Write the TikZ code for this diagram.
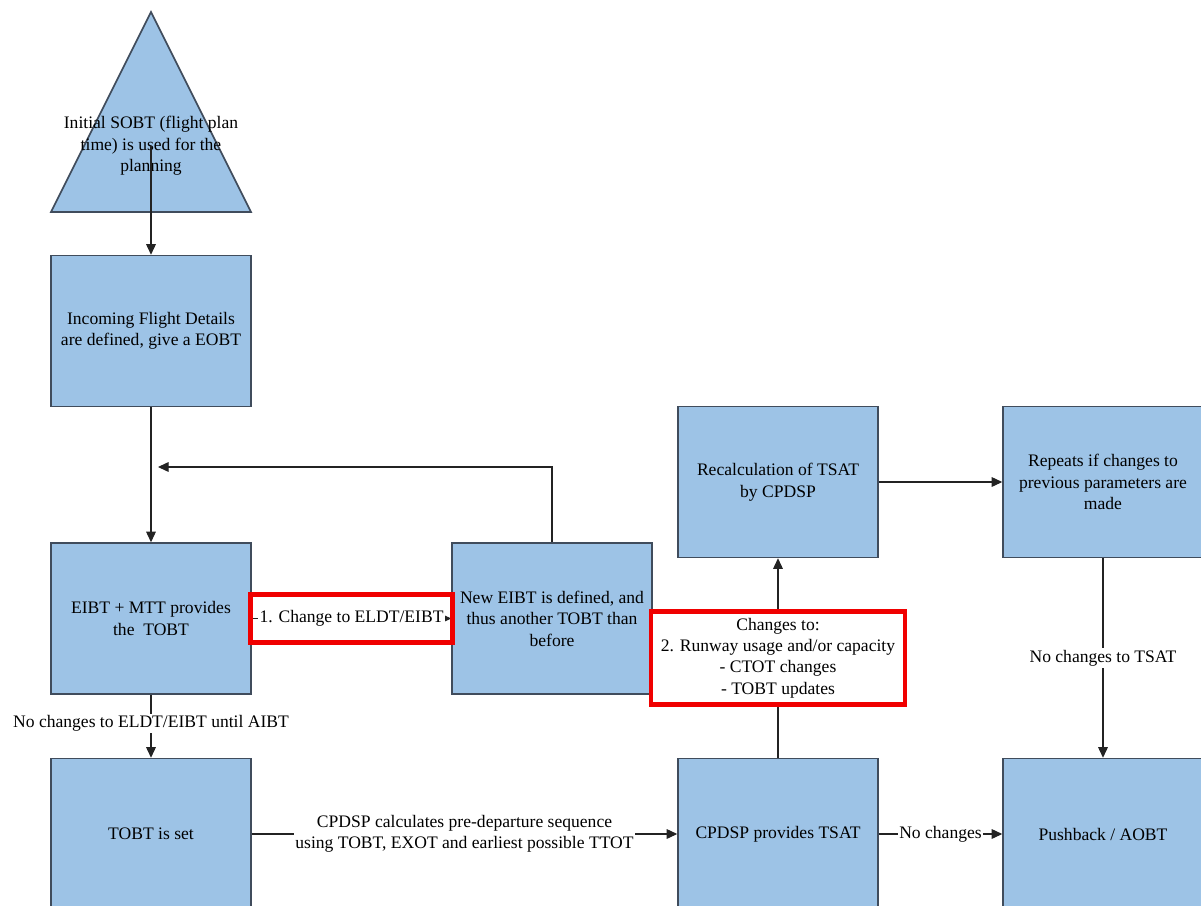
\documentclass[tikz,border=0pt]{standalone}
\usepackage{fontspec}
\setmainfont{Liberation Serif}
\usetikzlibrary{arrows.meta}
\definecolor{boxfill}{RGB}{157,195,230}
\definecolor{boxline}{RGB}{64,76,92}
\definecolor{wire}{RGB}{35,35,35}
\definecolor{flag}{RGB}{240,0,0}
\begin{document}
\begin{tikzpicture}[x=0.02cm,y=-0.02cm,
  txt/.style={font=\fontsize{10}{12.2}\selectfont, align=center},
  stagebox/.style={txt, draw=boxline, fill=boxfill, line width=0.9pt,
    minimum width=4cm, minimum height=3.02cm, inner sep=2pt},
  plain/.style={draw=wire, line width=0.6pt},
  arr/.style={plain, -{Triangle[length=6pt,width=5.5pt]}},
  tag/.style={txt, fill=white, inner sep=1pt},
  flagbox/.style={draw=flag, line width=2.8pt, inner sep=0pt}
]
\clip (0,0) rectangle (1201,906);
\fill[white] (0,0) rectangle (1201,906);

% starting point: the flight plan time
\fill[boxfill, draw=boxline, line width=0.9pt] (51,212) -- (151,12) -- (251,212) -- cycle;
\node[txt] (sobt) at (151,146) {Initial SOBT (flight plan\\time) is used for the\\planning};

% process stages
\node[stagebox] (incoming) at (151,331) {Incoming Flight Details\\are defined, give a EOBT};
\node[stagebox] (eibt)     at (151,618.5) {EIBT + MTT provides\\the\ \ TOBT};
\node[stagebox] (neweibt)  at (552,618.5) {New EIBT is defined, and\\thus another TOBT than\\before};
\node[stagebox] (recalc)   at (778,482) {Recalculation of TSAT\\by CPDSP};
\node[stagebox] (repeats)  at (1103,482) {Repeats if changes to\\previous parameters are\\made};
\node[stagebox] (tobtset)  at (151,834) {TOBT is set};
\node[stagebox] (tsat)     at (778,834) {CPDSP provides TSAT};
\node[stagebox] (aobt)     at (1103,834) {Pushback / AOBT};

% connectors
\draw[arr] (sobt.center) -- (incoming.north);
\draw[arr] (incoming.south) -- (eibt.north);

\coordinate (loopend) at (158,467);
\draw[arr] (neweibt.north) |- (loopend);

\draw[arr] (eibt.east) -- (neweibt.west)
  node[midway, flagbox, minimum width=4.04cm, minimum height=0.96cm] (flag1) {}
  node[midway, tag] (lbl1) {1. Change to ELDT/EIBT};

\draw[arr] (eibt.south) -- (tobtset.north)
  node[midway, tag, yshift=0.06cm] (lbl2) {No changes to ELDT/EIBT until AIBT};

\draw[arr] (tobtset.east) -- (tsat.west)
  node[midway, tag] (lbl3) {CPDSP calculates pre-departure sequence\\using TOBT, EXOT and earliest possible TTOT};

\draw[arr] (tsat.north) -- (recalc.south)
  node[midway, flagbox, fill=white, minimum width=5.08cm, minimum height=1.86cm, txt] (flag2)
  {Changes to:\\2. Runway usage and/or capacity\\- CTOT changes\\- TOBT updates};

\draw[arr] (recalc.east) -- (repeats.west);

\draw[arr] (repeats.south) -- (aobt.north)
  node[midway, tag] (lbl4) {No changes to TSAT};

\draw[arr] (tsat.east) -- (aobt.west)
  node[midway, tag] (lbl5) {No changes};
\end{tikzpicture}
\end{document}
